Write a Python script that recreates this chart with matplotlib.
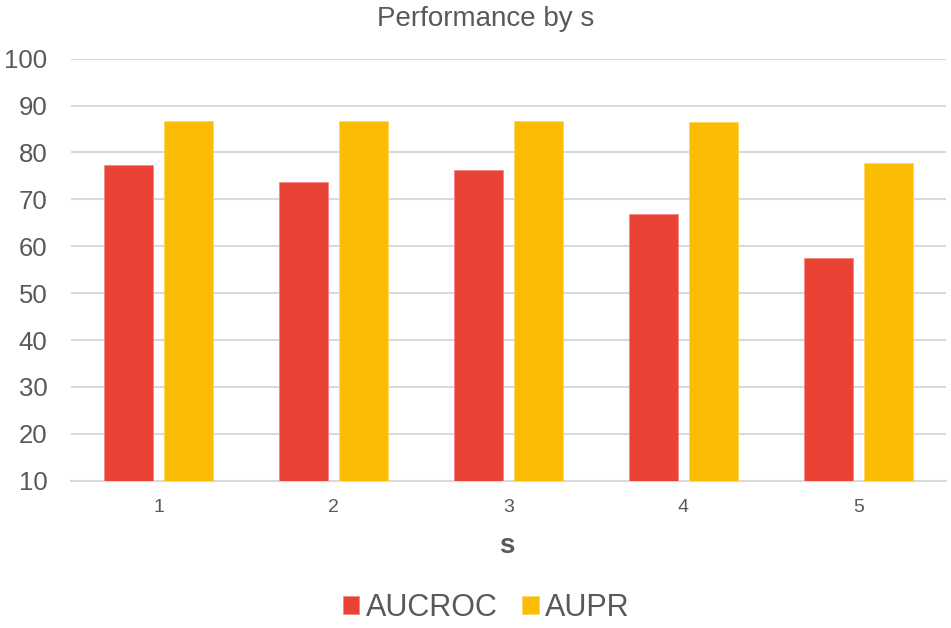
import numpy as np
import matplotlib.pyplot as plt

plt.rcParams['font.family'] = ['Liberation Sans', 'DejaVu Sans']

s_values = ['1', '2', '3', '4', '5']
aucroc = [77.4, 73.7, 76.3, 66.9, 57.4]
aupr = [86.8, 86.8, 86.8, 86.4, 77.7]
y_ticks = [10, 20, 30, 40, 50, 60, 70, 80, 90, 100]

red = '#EA4335'
yellow = '#FBBC04'
text_col = '#595959'
grid_col = '#D9D9D9'

fig = plt.figure(figsize=(9.51, 6.28), dpi=100)
ax = fig.add_axes([0.0747, 0.2346, 0.92, 0.6719])

x = np.arange(len(s_values))
w = 0.28
ax.bar(x - 0.174, np.array(aucroc) - 10, w, bottom=10, color=red,
       edgecolor='#F08A80', linewidth=0.6, zorder=3, label='AUCROC')
ax.bar(x + 0.171, np.array(aupr) - 10, w, bottom=10, color=yellow,
       edgecolor='#FDD663', linewidth=0.6, zorder=3, label='AUPR')

ax.set_xlim(-0.5, 4.5)
ax.set_ylim(10, 100)
ax.set_yticks(y_ticks)
ax.set_xticks(x)
ax.set_xticklabels(s_values)
ax.grid(axis='y', color=grid_col, linewidth=1.5, zorder=0)
for side in ['top', 'right', 'left']:
    ax.spines[side].set_visible(False)
ax.spines['bottom'].set_color(grid_col)
ax.spines['bottom'].set_linewidth(1.5)
ax.tick_params(axis='y', length=0, pad=17, labelsize=18.5, labelcolor=text_col)
ax.tick_params(axis='x', length=0, pad=13, labelsize=14, labelcolor=text_col)

fig.text(0.511, 0.97, 'Performance by s', ha='center', va='center',
         fontsize=20, color=text_col)
fig.text(0.533, 0.13, 's', ha='center', va='center', fontsize=20,
         fontweight='bold', color=text_col)

leg = fig.legend(loc='center', bbox_to_anchor=(0.511, 0.032), ncol=2,
                 frameon=False, fontsize=22, handlelength=0.55,
                 handleheight=0.55, handletextpad=0.2, columnspacing=0.8)
for t in leg.get_texts():
    t.set_color(text_col)

fig.savefig('out.png', dpi=100)
